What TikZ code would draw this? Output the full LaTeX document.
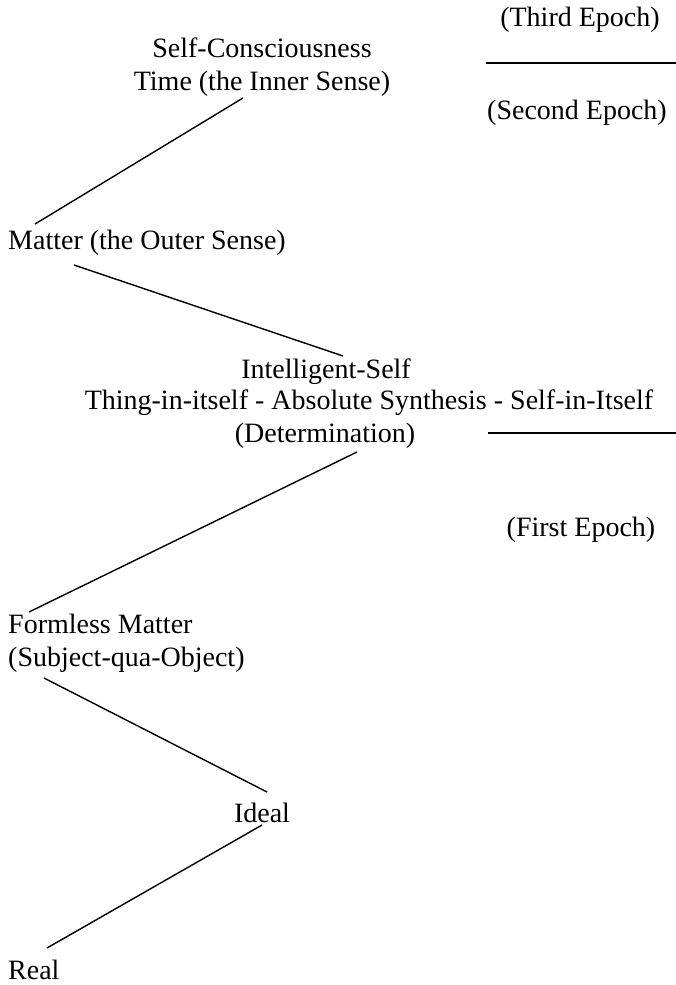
\documentclass[tikz,border=0pt]{standalone}
\usepackage{fontspec}
\setmainfont{Liberation Serif}
\begin{document}
\begin{tikzpicture}[x=1pt,y=-1pt,
  lbl/.style={inner sep=0pt, font=\fontsize{28}{33}\selectfont},
  conn/.style={line width=1.4pt},
  rulebar/.style={line width=2.6pt}]
\useasboundingbox (0,0) rectangle (676,985);
% epoch labels
\node[lbl] (third) at (580,20) {(Third Epoch)};
\node[lbl] (second) at (577,113) {(Second Epoch)};
\node[lbl] (first) at (581,530) {(First Epoch)};
\coordinate (r1a) at (486,63); \coordinate (r1b) at (676,63);
\coordinate (r2a) at (488,433); \coordinate (r2b) at (676,433);
\draw[rulebar] (r1a) -- (r1b);
\draw[rulebar] (r2a) -- (r2b);
% main nodes
\node[lbl, align=center] (self) at (262,67) {Self-Consciousness\\Time (the Inner Sense)};
\node[lbl, anchor=west] (matter) at (8,243) {Matter (the Outer Sense)};
\node[lbl] (intel) at (326,372) {Intelligent-Self};
\node[lbl] (thing) at (369,403) {Thing-in-itself - Absolute Synthesis - Self-in-Itself};
\node[lbl] (determ) at (325,436) {(Determination)};
\node[lbl, anchor=west, align=left] (formless) at (8,643) {Formless Matter\\(Subject-qua-Object)};
\node[lbl] (ideal) at (262,813) {Ideal};
\node[lbl, anchor=west] (real) at (8,970) {Real};
% connector ends
\coordinate (aS) at (243,98);  \coordinate (aM) at (35,224);
\coordinate (bM) at (74,265);  \coordinate (bI) at (343,356);
\coordinate (cD) at (357,452); \coordinate (cF) at (29,612);
\coordinate (dF) at (44,678);  \coordinate (dI) at (267,792);
\coordinate (eI) at (262,825); \coordinate (eR) at (47,948);
\draw[conn] (aS) -- (aM);
\draw[conn] (bM) -- (bI);
\draw[conn] (cD) -- (cF);
\draw[conn] (dF) -- (dI);
\draw[conn] (eI) -- (eR);
\end{tikzpicture}
\end{document}
